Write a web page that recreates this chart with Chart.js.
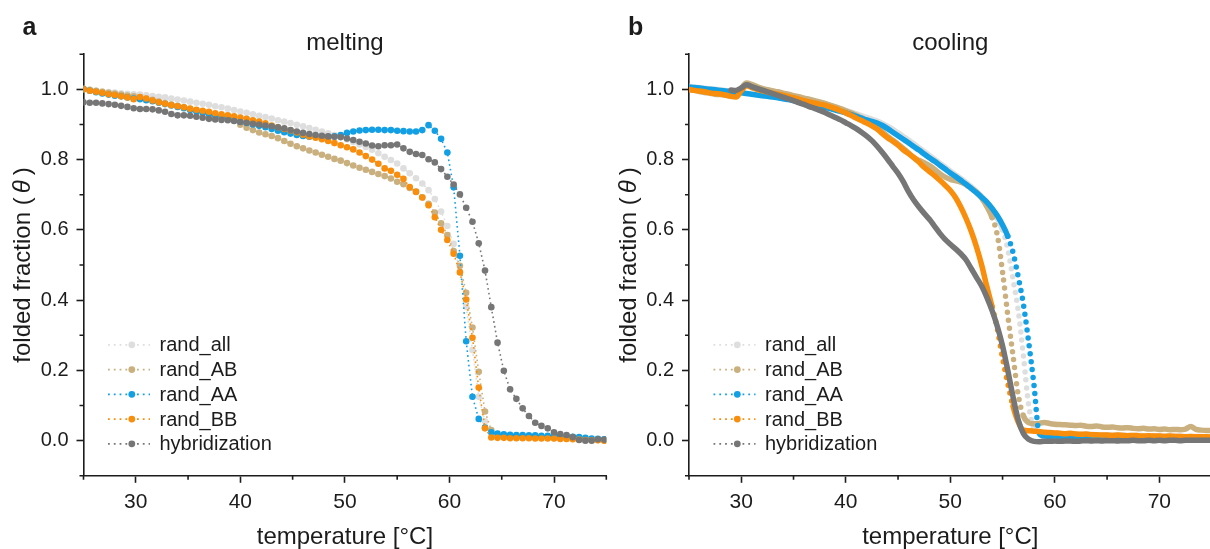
<!DOCTYPE html>
<html>
<head>
<meta charset="utf-8">
<title>Folded fraction: melting and cooling</title>
<script src="https://cdn.jsdelivr.net/npm/chart.js@4/dist/chart.umd.min.js"></script>
<style>
  html, body { margin: 0; padding: 0; background: #fff; overflow: hidden; }
  body { width: 1210px; height: 549px; position: relative; }
  canvas { position: absolute; top: 0; }
  #melting { left: 0; }
  #cooling { left: 600px; }
</style>
</head>
<body>
<canvas id="melting" width="620" height="549"></canvas>
<canvas id="cooling" width="620" height="549"></canvas>
<script>
// Two panels: stepwise melting (markers + dotted line) and continuous
// cooling ramps (dense traces, drawn as thick lines that break into dots
// where they fall steeply).

const FONT = '"Liberation Sans", Arial, Helvetica, sans-serif';
const INK = '#1c1c1c';

const seriesNames = ['rand_all', 'rand_AB', 'rand_AA', 'rand_BB', 'hybridization'];
const seriesColors = ['#dedede', '#c9b07e', '#139fe4', '#f98d0c', '#767676'];
// Chart.js draws lower `order` on top -> hybridization ends up uppermost
const seriesOrder = [5, 4, 3, 2, 1];
// per-trace pixel drop at which a cooling segment turns into separate dots
// (the BB and hybridization ramps were sampled more densely)
const dotThreshold = [14, 14, 14, 22, Infinity];

const xTicks = [30, 40, 50, 60, 70];
const xMinorTicks = [25, 35, 45, 55, 65, 75];
const yTicks = [0.0, 0.2, 0.4, 0.6, 0.8, 1.0];
const yMinorTicks = [-0.1, 0.1, 0.3, 0.5, 0.7, 0.9, 1.1];

// ---- melting (panel a) ----
const meltTemps = [
  25.0, 25.6, 26.2, 26.8, 27.4, 28.0, 28.6, 29.2, 29.8, 30.4,
  31.0, 31.6, 32.2, 32.8, 33.4, 34.0, 34.6, 35.2, 35.8, 36.4,
  37.0, 37.6, 38.2, 38.8, 39.4, 40.0, 40.6, 41.2, 41.8, 42.4,
  43.0, 43.6, 44.2, 44.8, 45.4, 46.0, 46.6, 47.2, 47.8, 48.4,
  49.0, 49.6, 50.2, 50.8, 51.4, 52.0, 52.6, 53.2, 53.8, 54.4,
  55.0, 55.6, 56.2, 56.8, 57.4, 58.0, 58.6, 59.2, 59.8, 60.4,
  61.0, 61.6, 62.2, 62.8, 63.4, 64.0, 64.6, 65.2, 65.8, 66.4,
  67.0, 67.6, 68.2, 68.8, 69.4, 70.0, 70.6, 71.2, 71.8, 72.4,
  73.0, 73.6, 74.2, 74.8
];
const meltRandAll = [
  1.000, 0.998, 0.996, 0.994, 0.992, 0.991, 0.989, 0.987, 0.986, 0.985,
  0.983, 0.981, 0.979, 0.977, 0.974, 0.971, 0.968, 0.965, 0.962, 0.959,
  0.956, 0.952, 0.949, 0.945, 0.941, 0.937, 0.933, 0.929, 0.925, 0.921,
  0.917, 0.912, 0.908, 0.904, 0.899, 0.895, 0.890, 0.885, 0.880, 0.875,
  0.870, 0.864, 0.857, 0.850, 0.843, 0.836, 0.828, 0.818, 0.808, 0.799,
  0.789, 0.775, 0.761, 0.747, 0.732, 0.713, 0.688, 0.652, 0.611, 0.560,
  0.482, 0.381, 0.258, 0.125, 0.055, 0.021, 0.014, 0.012, 0.011, 0.010,
  0.010, 0.009, 0.009, 0.008, 0.008, 0.007, 0.007, 0.006, 0.005, 0.004,
  0.003, 0.002, 0.002, 0.001
];
const meltRandAB = [
  1.002, 0.999, 0.996, 0.993, 0.990, 0.988, 0.985, 0.982, 0.980, 0.977,
  0.973, 0.970, 0.965, 0.961, 0.957, 0.953, 0.949, 0.944, 0.940, 0.935,
  0.931, 0.927, 0.923, 0.918, 0.911, 0.899, 0.891, 0.884, 0.877, 0.872,
  0.867, 0.861, 0.853, 0.845, 0.838, 0.832, 0.826, 0.820, 0.814, 0.808,
  0.802, 0.797, 0.790, 0.783, 0.777, 0.771, 0.765, 0.759, 0.753, 0.746,
  0.737, 0.730, 0.719, 0.709, 0.693, 0.674, 0.649, 0.619, 0.585, 0.540,
  0.498, 0.421, 0.322, 0.196, 0.083, 0.030, 0.016, 0.013, 0.012, 0.011,
  0.011, 0.010, 0.010, 0.010, 0.009, 0.009, 0.008, 0.008, 0.007, 0.006,
  0.005, 0.003, 0.002, 0.001
];
const meltRandAA = [
  1.000, 0.996, 0.992, 0.988, 0.985, 0.982, 0.980, 0.977, 0.974, 0.972,
  0.969, 0.966, 0.962, 0.958, 0.954, 0.950, 0.946, 0.941, 0.937, 0.933,
  0.929, 0.925, 0.920, 0.916, 0.912, 0.908, 0.904, 0.900, 0.896, 0.892,
  0.887, 0.882, 0.878, 0.874, 0.870, 0.867, 0.865, 0.864, 0.864, 0.865,
  0.866, 0.870, 0.876, 0.880, 0.883, 0.884, 0.885, 0.885, 0.884, 0.884,
  0.882, 0.881, 0.880, 0.880, 0.884, 0.898, 0.882, 0.859, 0.820, 0.721,
  0.526, 0.283, 0.125, 0.062, 0.037, 0.024, 0.020, 0.018, 0.017, 0.016,
  0.016, 0.015, 0.015, 0.014, 0.014, 0.013, 0.013, 0.012, 0.011, 0.010,
  0.008, 0.006, 0.005, 0.004
];
const meltRandBB = [
  1.000, 0.996, 0.993, 0.990, 0.986, 0.984, 0.980, 0.977, 0.972, 0.978,
  0.974, 0.968, 0.963, 0.959, 0.955, 0.952, 0.949, 0.945, 0.942, 0.939,
  0.936, 0.932, 0.929, 0.926, 0.923, 0.920, 0.916, 0.912, 0.908, 0.903,
  0.897, 0.892, 0.887, 0.883, 0.877, 0.871, 0.866, 0.862, 0.858, 0.853,
  0.847, 0.841, 0.835, 0.829, 0.820, 0.810, 0.800, 0.788, 0.775, 0.768,
  0.757, 0.745, 0.722, 0.708, 0.692, 0.670, 0.636, 0.600, 0.571, 0.532,
  0.479, 0.402, 0.293, 0.151, 0.035, 0.009, 0.008, 0.008, 0.007, 0.007,
  0.007, 0.007, 0.006, 0.006, 0.006, 0.006, 0.005, 0.005, 0.004, 0.003,
  0.002, 0.001, 0.001, 0.000
];
const meltHybrid = [
  0.963, 0.962, 0.962, 0.960, 0.958, 0.956, 0.953, 0.950, 0.946, 0.944,
  0.944, 0.943, 0.940, 0.936, 0.930, 0.926, 0.926, 0.925, 0.922, 0.919,
  0.916, 0.914, 0.913, 0.912, 0.910, 0.907, 0.905, 0.902, 0.900, 0.897,
  0.895, 0.892, 0.889, 0.884, 0.880, 0.876, 0.873, 0.870, 0.868, 0.866,
  0.865, 0.864, 0.860, 0.856, 0.851, 0.846, 0.840, 0.838, 0.841, 0.841,
  0.843, 0.832, 0.822, 0.816, 0.813, 0.801, 0.792, 0.773, 0.751, 0.729,
  0.701, 0.663, 0.623, 0.562, 0.484, 0.380, 0.279, 0.199, 0.146, 0.119,
  0.092, 0.070, 0.051, 0.042, 0.035, 0.024, 0.019, 0.016, 0.010, 0.002,
  0.000, 0.000, 0.004, 0.003
];

// ---- cooling (panel b) ----
const coolTemps = [
  25.0, 25.5, 26.0, 26.5, 27.0, 27.5, 28.0, 28.5, 29.0, 29.5,
  30.0, 30.5, 31.0, 31.5, 32.0, 32.5, 33.0, 33.5, 34.0, 34.5,
  35.0, 35.5, 36.0, 36.5, 37.0, 37.5, 38.0, 38.5, 39.0, 39.5,
  40.0, 40.5, 41.0, 41.5, 42.0, 42.5, 43.0, 43.5, 44.0, 44.5,
  45.0, 45.5, 46.0, 46.5, 47.0, 47.5, 48.0, 48.5, 49.0, 49.5,
  50.0, 50.5, 51.0, 51.5, 52.0, 52.5, 53.0, 53.5, 54.0, 54.5,
  55.0, 55.5, 56.0, 56.5, 57.0, 57.5, 58.0, 58.5, 59.0, 59.5,
  60.0, 60.5, 61.0, 61.5, 62.0, 62.5, 63.0, 63.5, 64.0, 64.5,
  65.0, 65.5, 66.0, 66.5, 67.0, 67.5, 68.0, 68.5, 69.0, 69.5,
  70.0, 70.5, 71.0, 71.5, 72.0, 72.5, 73.0, 73.5, 74.0, 74.5,
  75.0
];
const coolRandAll = [
  1.008, 1.006, 1.005, 1.003, 1.002, 1.000, 0.999, 0.997, 0.995, 0.994,
  1.000, 1.012, 1.009, 1.004, 1.000, 0.996, 0.993, 0.990, 0.987, 0.984,
  0.981, 0.977, 0.974, 0.970, 0.966, 0.962, 0.958, 0.953, 0.949, 0.944,
  0.940, 0.935, 0.930, 0.925, 0.920, 0.915, 0.910, 0.903, 0.895, 0.886,
  0.876, 0.866, 0.856, 0.845, 0.834, 0.823, 0.812, 0.801, 0.790, 0.779,
  0.768, 0.757, 0.746, 0.735, 0.723, 0.710, 0.695, 0.678, 0.657, 0.632,
  0.600, 0.545, 0.460, 0.370, 0.240, 0.100, 0.035, 0.025, 0.022, 0.021,
  0.021, 0.020, 0.020, 0.019, 0.019, 0.018, 0.018, 0.018, 0.017, 0.017,
  0.017, 0.016, 0.016, 0.016, 0.015, 0.015, 0.015, 0.014, 0.014, 0.014,
  0.014, 0.013, 0.013, 0.013, 0.013, 0.012, 0.012, 0.012, 0.012, 0.011,
  0.011
];
const coolRandAB = [
  1.000, 0.997, 0.994, 0.991, 0.989, 0.986, 0.985, 0.983, 0.981, 0.980,
  1.003, 1.018, 1.014, 1.008, 1.003, 0.999, 0.996, 0.993, 0.989, 0.986,
  0.982, 0.979, 0.975, 0.972, 0.968, 0.964, 0.960, 0.955, 0.950, 0.945,
  0.939, 0.933, 0.926, 0.919, 0.911, 0.902, 0.891, 0.879, 0.866, 0.855,
  0.844, 0.832, 0.819, 0.806, 0.798, 0.791, 0.783, 0.772, 0.760, 0.750,
  0.744, 0.740, 0.736, 0.729, 0.718, 0.707, 0.690, 0.666, 0.635, 0.585,
  0.480, 0.357, 0.242, 0.130, 0.070, 0.051, 0.048, 0.049, 0.052, 0.049,
  0.047, 0.046, 0.045, 0.044, 0.043, 0.044, 0.041, 0.040, 0.042, 0.039,
  0.038, 0.039, 0.037, 0.036, 0.037, 0.035, 0.034, 0.035, 0.033, 0.034,
  0.032, 0.033, 0.031, 0.032, 0.031, 0.033, 0.040, 0.032, 0.030, 0.029,
  0.029
];
const coolRandAA = [
  1.007, 1.005, 1.004, 1.002, 1.000, 0.999, 0.997, 0.995, 0.993, 0.991,
  0.990, 0.988, 0.986, 0.984, 0.982, 0.980, 0.978, 0.976, 0.973, 0.971,
  0.968, 0.965, 0.962, 0.959, 0.956, 0.953, 0.949, 0.945, 0.941, 0.937,
  0.933, 0.928, 0.923, 0.918, 0.913, 0.909, 0.904, 0.897, 0.888, 0.878,
  0.868, 0.858, 0.848, 0.837, 0.827, 0.816, 0.805, 0.795, 0.784, 0.773,
  0.762, 0.752, 0.741, 0.730, 0.718, 0.706, 0.693, 0.679, 0.661, 0.640,
  0.614, 0.582, 0.536, 0.466, 0.387, 0.280, 0.160, 0.021, 0.013, 0.012,
  0.013, 0.012, 0.012, 0.011, 0.012, 0.011, 0.011, 0.012, 0.011, 0.010,
  0.011, 0.010, 0.011, 0.010, 0.010, 0.011, 0.010, 0.009, 0.010, 0.010,
  0.009, 0.010, 0.009, 0.009, 0.010, 0.009, 0.008, 0.009, 0.008, 0.009,
  0.008
];
const coolRandBB = [
  1.000, 0.997, 0.995, 0.993, 0.990, 0.988, 0.987, 0.984, 0.980, 0.978,
  0.996, 1.010, 1.005, 1.000, 0.996, 0.992, 0.989, 0.986, 0.983, 0.980,
  0.976, 0.972, 0.968, 0.964, 0.961, 0.958, 0.955, 0.950, 0.945, 0.939,
  0.933, 0.926, 0.918, 0.911, 0.904, 0.896, 0.887, 0.874, 0.862, 0.852,
  0.841, 0.828, 0.817, 0.806, 0.793, 0.778, 0.766, 0.754, 0.741, 0.727,
  0.712, 0.692, 0.665, 0.633, 0.596, 0.552, 0.500, 0.438, 0.381, 0.318,
  0.235, 0.163, 0.098, 0.053, 0.030, 0.028, 0.027, 0.026, 0.024, 0.023,
  0.022, 0.021, 0.020, 0.021, 0.019, 0.018, 0.019, 0.017, 0.017, 0.016,
  0.016, 0.015, 0.016, 0.015, 0.014, 0.015, 0.014, 0.013, 0.014, 0.013,
  0.013, 0.012, 0.013, 0.012, 0.012, 0.011, 0.012, 0.011, 0.011, 0.011,
  0.010
];
const coolHybrid = [
  null, null, null, null, null, null, null, null, 0.998, 0.997,
  1.004, 1.013, 1.008, 1.003, 0.998, 0.993, 0.988, 0.983, 0.978, 0.973,
  0.968, 0.962, 0.957, 0.951, 0.946, 0.940, 0.934, 0.927, 0.920, 0.913,
  0.905, 0.897, 0.888, 0.878, 0.867, 0.854, 0.838, 0.820, 0.801, 0.781,
  0.761, 0.737, 0.709, 0.685, 0.665, 0.647, 0.630, 0.610, 0.590, 0.573,
  0.559, 0.546, 0.532, 0.515, 0.490, 0.465, 0.440, 0.408, 0.370, 0.325,
  0.270, 0.200, 0.125, 0.059, 0.020, 0.004, -0.002, -0.003, -0.002, -0.002,
  -0.001, -0.002, -0.001, -0.001, -0.002, -0.001, 0.000, -0.001, 0.000, -0.001,
  0.000, 0.000, -0.001, 0.000, 0.000, 0.001, 0.000, 0.000, 0.001, 0.000,
  0.001, 0.000, 0.001, 0.001, 0.000, 0.001, 0.001, 0.001, 0.001, 0.001,
  0.001
];

const meltSeries = [meltRandAll, meltRandAB, meltRandAA, meltRandBB, meltHybrid];
const coolSeries = [coolRandAll, coolRandAB, coolRandAA, coolRandBB, coolHybrid];

function points(temps, values) {
  return temps.map((t, i) => ({ x: t, y: values[i] }));
}

function meltDataset(values, i) {
  return {
    label: seriesNames[i],
    data: points(meltTemps, values),
    order: seriesOrder[i],
    borderColor: seriesColors[i],
    backgroundColor: seriesColors[i],
    borderWidth: 1.6,
    borderDash: [1.6, 3.2],
    pointRadius: 3.3,
    pointBorderWidth: 0,
    pointBackgroundColor: seriesColors[i],
  };
}

function coolDataset(values, i) {
  const limit = dotThreshold[i];
  return {
    label: seriesNames[i],
    data: points(coolTemps, values),
    order: seriesOrder[i],
    borderColor: seriesColors[i],
    backgroundColor: seriesColors[i],
    borderWidth: 5.5,
    borderCapStyle: 'round',
    borderJoinStyle: 'round',
    cubicInterpolationMode: 'monotone',
    pointRadius: 0,
    spanGaps: false,
    // steep stretches of the dense trace read as separate dots
    segment: {
      borderDash: (ctx) => (Math.abs(ctx.p1.y - ctx.p0.y) > limit ? [0, 8] : undefined),
    },
  };
}

function drawYTitle(ctx, x, y) {
  const parts = [
    { text: 'folded fraction (', font: `24px ${FONT}`, gap: 4 },
    { text: '\u03b8', font: `italic 24px ${FONT}`, gap: 5 },
    { text: ')', font: `24px ${FONT}`, gap: 0 },
  ];
  let total = 0;
  parts.forEach((p) => { ctx.font = p.font; p.w = ctx.measureText(p.text).width; total += p.w + p.gap; });
  ctx.save();
  ctx.translate(x, y);
  ctx.rotate(-Math.PI / 2);
  ctx.textAlign = 'left';
  ctx.textBaseline = 'alphabetic';
  let cx = -total / 2;
  parts.forEach((p) => { ctx.font = p.font; ctx.fillText(p.text, cx, 0); cx += p.w + p.gap; });
  ctx.restore();
}

// minor ticks, panel letter, titles and the in-plot legend
const panelDecor = {
  id: 'panelDecor',
  afterDraw(chart, args, opts) {
    const { ctx, chartArea: area, scales } = chart;
    const midX = (area.left + area.right) / 2;
    ctx.save();

    ctx.strokeStyle = INK;
    ctx.lineWidth = 1.6;
    ctx.beginPath();
    xMinorTicks.forEach((v) => {
      const px = scales.x.getPixelForValue(v);
      ctx.moveTo(px, area.bottom);
      ctx.lineTo(px, area.bottom + 4);
    });
    yMinorTicks.forEach((v) => {
      const py = scales.y.getPixelForValue(v);
      ctx.moveTo(area.left, py);
      ctx.lineTo(area.left - 4, py);
    });
    ctx.stroke();

    ctx.fillStyle = INK;
    ctx.textBaseline = 'alphabetic';
    ctx.font = `bold 25px ${FONT}`;
    ctx.textAlign = 'left';
    ctx.fillText(opts.letter, area.left - 61, 35);

    ctx.font = `24px ${FONT}`;
    ctx.textAlign = 'center';
    ctx.fillText(opts.title, midX, 50);
    ctx.fillText('temperature [\u00b0C]', midX, 544);
    drawYTitle(ctx, area.left - 53.5, (area.top + area.bottom) / 2);

    seriesNames.forEach((name, i) => {
      const y = area.bottom - 131 + i * 24.75;
      ctx.strokeStyle = seriesColors[i];
      ctx.fillStyle = seriesColors[i];
      ctx.lineWidth = 1.8;
      ctx.setLineDash([1.8, 4]);
      ctx.beginPath();
      ctx.moveTo(area.left + 24.5, y);
      ctx.lineTo(area.left + 66.5, y);
      ctx.stroke();
      ctx.setLineDash([]);
      ctx.beginPath();
      ctx.arc(area.left + 48.3, y, 3.4, 0, Math.PI * 2);
      ctx.fill();
      ctx.fillStyle = INK;
      ctx.font = `20px ${FONT}`;
      ctx.textAlign = 'left';
      ctx.textBaseline = 'middle';
      ctx.fillText(name, area.left + 76, y + 1);
    });
    ctx.restore();
  },
};

function panelOptions({ letter, title, axisLeft, padRight }) {
  return {
    responsive: false,
    animation: false,
    devicePixelRatio: 1,
    layout: { padding: { left: 0, right: padRight, top: 54.2, bottom: 0 } },
    plugins: {
      legend: { display: false },
      tooltip: { enabled: false },
      panelDecor: { letter, title },
    },
    scales: {
      x: {
        type: 'linear',
        min: 25,
        max: 75,
        afterFit: (axis) => { axis.height = 73.2; },
        afterBuildTicks: (axis) => { axis.ticks = xTicks.map((value) => ({ value })); },
        grid: { drawOnChartArea: false, tickLength: 7, tickWidth: 1.6, tickColor: INK },
        border: { color: INK, width: 1.6 },
        ticks: {
          color: INK,
          padding: 7,
          maxRotation: 0,
          font: { family: FONT, size: 21 },
          callback: (v) => String(v),
        },
      },
      y: {
        type: 'linear',
        min: -0.1,
        max: 1.1,
        afterFit: (axis) => { axis.width = axisLeft; },
        afterBuildTicks: (axis) => { axis.ticks = yTicks.map((value) => ({ value })); },
        grid: { drawOnChartArea: false, tickLength: 7, tickWidth: 1.6, tickColor: INK },
        border: { color: INK, width: 1.6 },
        ticks: {
          color: INK,
          padding: 8,
          font: { family: FONT, size: 20 },
          callback: (v) => Number(v).toFixed(1),
        },
      },
    },
  };
}

new Chart(document.getElementById('melting'), {
  type: 'line',
  data: { datasets: meltSeries.map(meltDataset) },
  options: panelOptions({ letter: 'a', title: 'melting', axisLeft: 83.5, padRight: 13.7 }),
  plugins: [panelDecor],
});

new Chart(document.getElementById('cooling'), {
  type: 'line',
  data: { datasets: coolSeries.map(coolDataset) },
  options: panelOptions({ letter: 'b', title: 'cooling', axisLeft: 89, padRight: 8.4 }),
  plugins: [panelDecor],
});
</script>
</body>
</html>
